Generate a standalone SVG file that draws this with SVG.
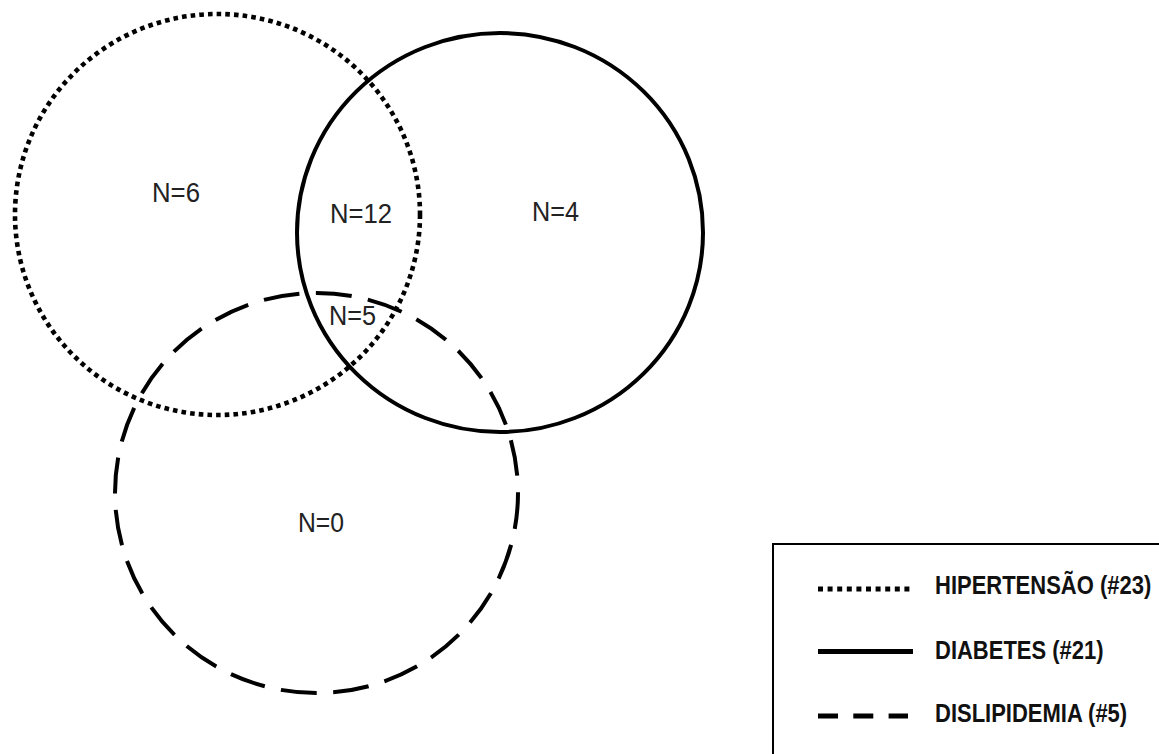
<svg xmlns="http://www.w3.org/2000/svg" width="1159" height="754" viewBox="0 0 1159 754">
<style>
.lbl{font-family:"Liberation Sans",Arial,sans-serif;font-size:27px;fill:#222}
.leg{font-family:"Liberation Sans",Arial,sans-serif;font-size:22px;font-weight:bold;fill:#111}
.ring{fill:none;stroke:#000;stroke-width:4}
.dot{stroke-width:4.6;stroke-dasharray:4.6 4.1}
.dash{stroke-dasharray:36 16.5}
</style>
<rect width="1159" height="754" fill="#fff"/>
<g id="connectors"/>
<g id="hipertensao">
<ellipse class="ring dot" cx="217.5" cy="214.5" rx="202.5" ry="200.5"/>
</g>
<g id="diabetes">
<ellipse class="ring" cx="500" cy="232.5" rx="203" ry="199.5"/>
</g>
<g id="dislipidemia">
<ellipse class="ring dash" cx="316.5" cy="493" rx="201.5" ry="200"/>
</g>
<g id="labels">
<text class="lbl" x="152" y="202" textLength="48" lengthAdjust="spacingAndGlyphs">N=6</text>
<text class="lbl" x="330" y="223" textLength="62" lengthAdjust="spacingAndGlyphs">N=12</text>
<text class="lbl" x="532" y="221" textLength="47" lengthAdjust="spacingAndGlyphs">N=4</text>
<text class="lbl" x="329" y="325" textLength="47" lengthAdjust="spacingAndGlyphs">N=5</text>
<text class="lbl" x="298" y="532" textLength="46" lengthAdjust="spacingAndGlyphs">N=0</text>
</g>
<g id="legend">
<path d="M1159 544H773V754" fill="none" stroke="#000" stroke-width="2"/>
<line x1="818" y1="589" x2="913" y2="589" stroke="#000" stroke-width="5" stroke-dasharray="5 4.6"/>
<line x1="818" y1="651.5" x2="913" y2="651.5" stroke="#000" stroke-width="5"/>
<line x1="818" y1="716" x2="908" y2="716" stroke="#000" stroke-width="5" stroke-dasharray="20 15.3"/>
<text class="leg" transform="translate(935 594) scale(1 1.2)">HIPERTENSÃO (#23)</text>
<text class="leg" transform="translate(935 659) scale(1 1.2)">DIABETES (#21)</text>
<text class="leg" transform="translate(935 722) scale(1 1.2)">DISLIPIDEMIA (#5)</text>
</g>
</svg>
